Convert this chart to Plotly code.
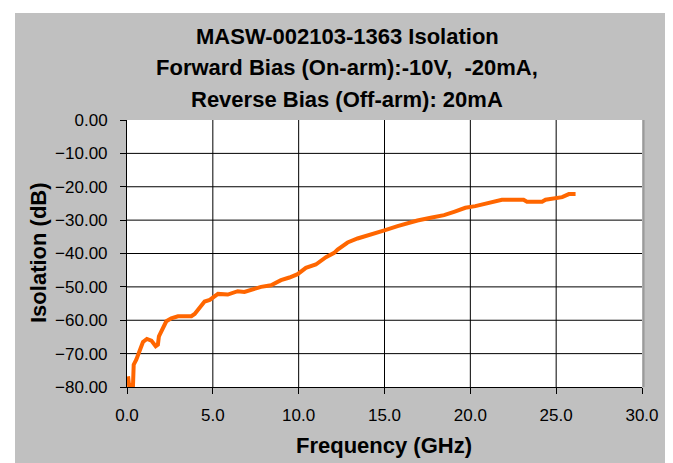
import plotly.graph_objects as go

# ---- data ----
freq_ghz = [0.06, 0.12, 0.35, 0.39, 0.54, 0.70, 0.78, 0.93, 1.16, 1.42, 1.67, 1.80, 1.86,
            2.06, 2.29, 2.58, 2.97, 3.40, 3.75, 3.94, 4.23, 4.52, 4.82, 5.01, 5.30, 5.87,
            6.17, 6.45, 6.84, 7.33, 7.81, 8.39, 8.97, 9.46, 9.94, 10.42, 11.00, 11.59,
            12.07, 12.27, 12.66, 12.85, 13.43, 14.20, 15.04, 15.76, 16.34, 16.92, 17.69,
            18.47, 19.05, 19.71, 20.29, 21.07, 21.84, 22.50, 23.10, 23.30, 23.80, 24.18,
            24.38, 24.96, 25.35, 25.74, 26.13]
isolation_db = [-76.8, -79.4, -79.4, -73.3, -71.8, -69.8, -68.3, -66.5, -65.6, -66.1, -67.8,
                -67.3, -64.8, -62.4, -60.3, -59.4, -58.8, -58.8, -58.8, -58.1, -56.4, -54.4,
                -53.9, -53.2, -52.1, -52.3, -51.7, -51.3, -51.5, -50.8, -50.0, -49.5, -48.0,
                -47.2, -46.2, -44.3, -43.3, -41.1, -39.8, -38.8, -37.6, -36.7, -35.5, -34.4,
                -33.0, -31.8, -30.8, -30.1, -29.3, -28.5, -27.5, -26.3, -25.8, -24.9, -23.9,
                -23.9, -23.9, -24.5, -24.5, -24.5, -23.9, -23.4, -23.1, -22.2, -22.2]

x_ticks = [0, 5, 10, 15, 20, 25, 30]
y_ticks = [0, -10, -20, -30, -40, -50, -60, -70, -80]
title_lines = ["MASW-002103-1363 Isolation",
               "Forward Bias (On-arm):-10V,  -20mA,",
               "Reverse Bias (Off-arm): 20mA"]

W, H = 673, 463
ML, MR, MT, MB = 119, 39, 112, 84
PH = H - MT - MB
PW = W - ML - MR

def py(p):  # pixel y -> paper y
    return (H - MB - p) / PH

def px(p):  # pixel x -> paper x
    return (p - ML) / PW

FONT = "Liberation Sans, Arial, sans-serif"

fig = go.Figure()
fig.add_trace(go.Scatter(x=freq_ghz, y=isolation_db, mode="lines",
                         line=dict(color="#FF6600", width=4), showlegend=False))

shapes = []
# white frame strips (outside grey chart area)
shapes.append(dict(type="rect", xref="paper", yref="paper", x0=px(0), x1=px(7), y0=py(H), y1=py(0),
                   fillcolor="white", line=dict(width=0), layer="below"))
shapes.append(dict(type="rect", xref="paper", yref="paper", x0=px(0), x1=px(W), y0=py(5), y1=py(0),
                   fillcolor="white", line=dict(width=0), layer="below"))
# grid lines
for v in x_ticks[1:-1]:
    shapes.append(dict(type="line", xref="x", yref="paper", x0=v, x1=v, y0=0, y1=1,
                       line=dict(color="black", width=1), layer="below"))
for v in y_ticks[1:-1]:
    shapes.append(dict(type="line", xref="paper", yref="y", x0=0, x1=1, y0=v, y1=v,
                       line=dict(color="black", width=1), layer="below"))
# plot-area shadow on the right
shapes.append(dict(type="line", xref="paper", yref="paper", x0=1.003, x1=1.003, y0=0, y1=1,
                   line=dict(color="#9a9a9a", width=2), layer="below"))

annotations = []
for i, t in enumerate(title_lines):
    annotations.append(dict(text=f"<b>{t}</b>", xref="paper", yref="paper",
                            x=px(339), y=py(29 + 31 * i), showarrow=False,
                            font=dict(family=FONT, size=22, color="black"),
                            xanchor="center", yanchor="middle"))
annotations.append(dict(text="<b>Frequency (GHz)</b>", xref="paper", yref="paper",
                        x=px(376), y=py(437), showarrow=False,
                        font=dict(family=FONT, size=22, color="black"),
                        xanchor="center", yanchor="middle"))
annotations.append(dict(text="<b>Isolation (dB)</b>", xref="paper", yref="paper",
                        x=px(30), y=py(245), showarrow=False, textangle=-90,
                        font=dict(family=FONT, size=22, color="black"),
                        xanchor="center", yanchor="middle"))

fig.update_layout(
    width=W, height=H, autosize=False,
    margin=dict(l=ML, r=MR, t=MT, b=MB, pad=0),
    paper_bgcolor="#C0C0C0", plot_bgcolor="white",
    font=dict(family=FONT, size=17, color="black"),
    shapes=shapes, annotations=annotations,
    xaxis=dict(range=[0, 30], tickvals=x_ticks, tickformat=".1f", showgrid=False,
               zeroline=False, showline=True, linecolor="black", linewidth=1,
               ticks="outside", ticklen=6, tickcolor="black", ticklabelstandoff=7,
               tickfont=dict(size=17)),
    yaxis=dict(range=[-80, 0], tickvals=y_ticks, tickformat=".2f", showgrid=False,
               zeroline=False, showline=True, linecolor="black", linewidth=1,
               ticks="outside", ticklen=6, tickcolor="black", ticklabelstandoff=9,
               tickfont=dict(size=17)),
)

fig.write_html("out.html")
